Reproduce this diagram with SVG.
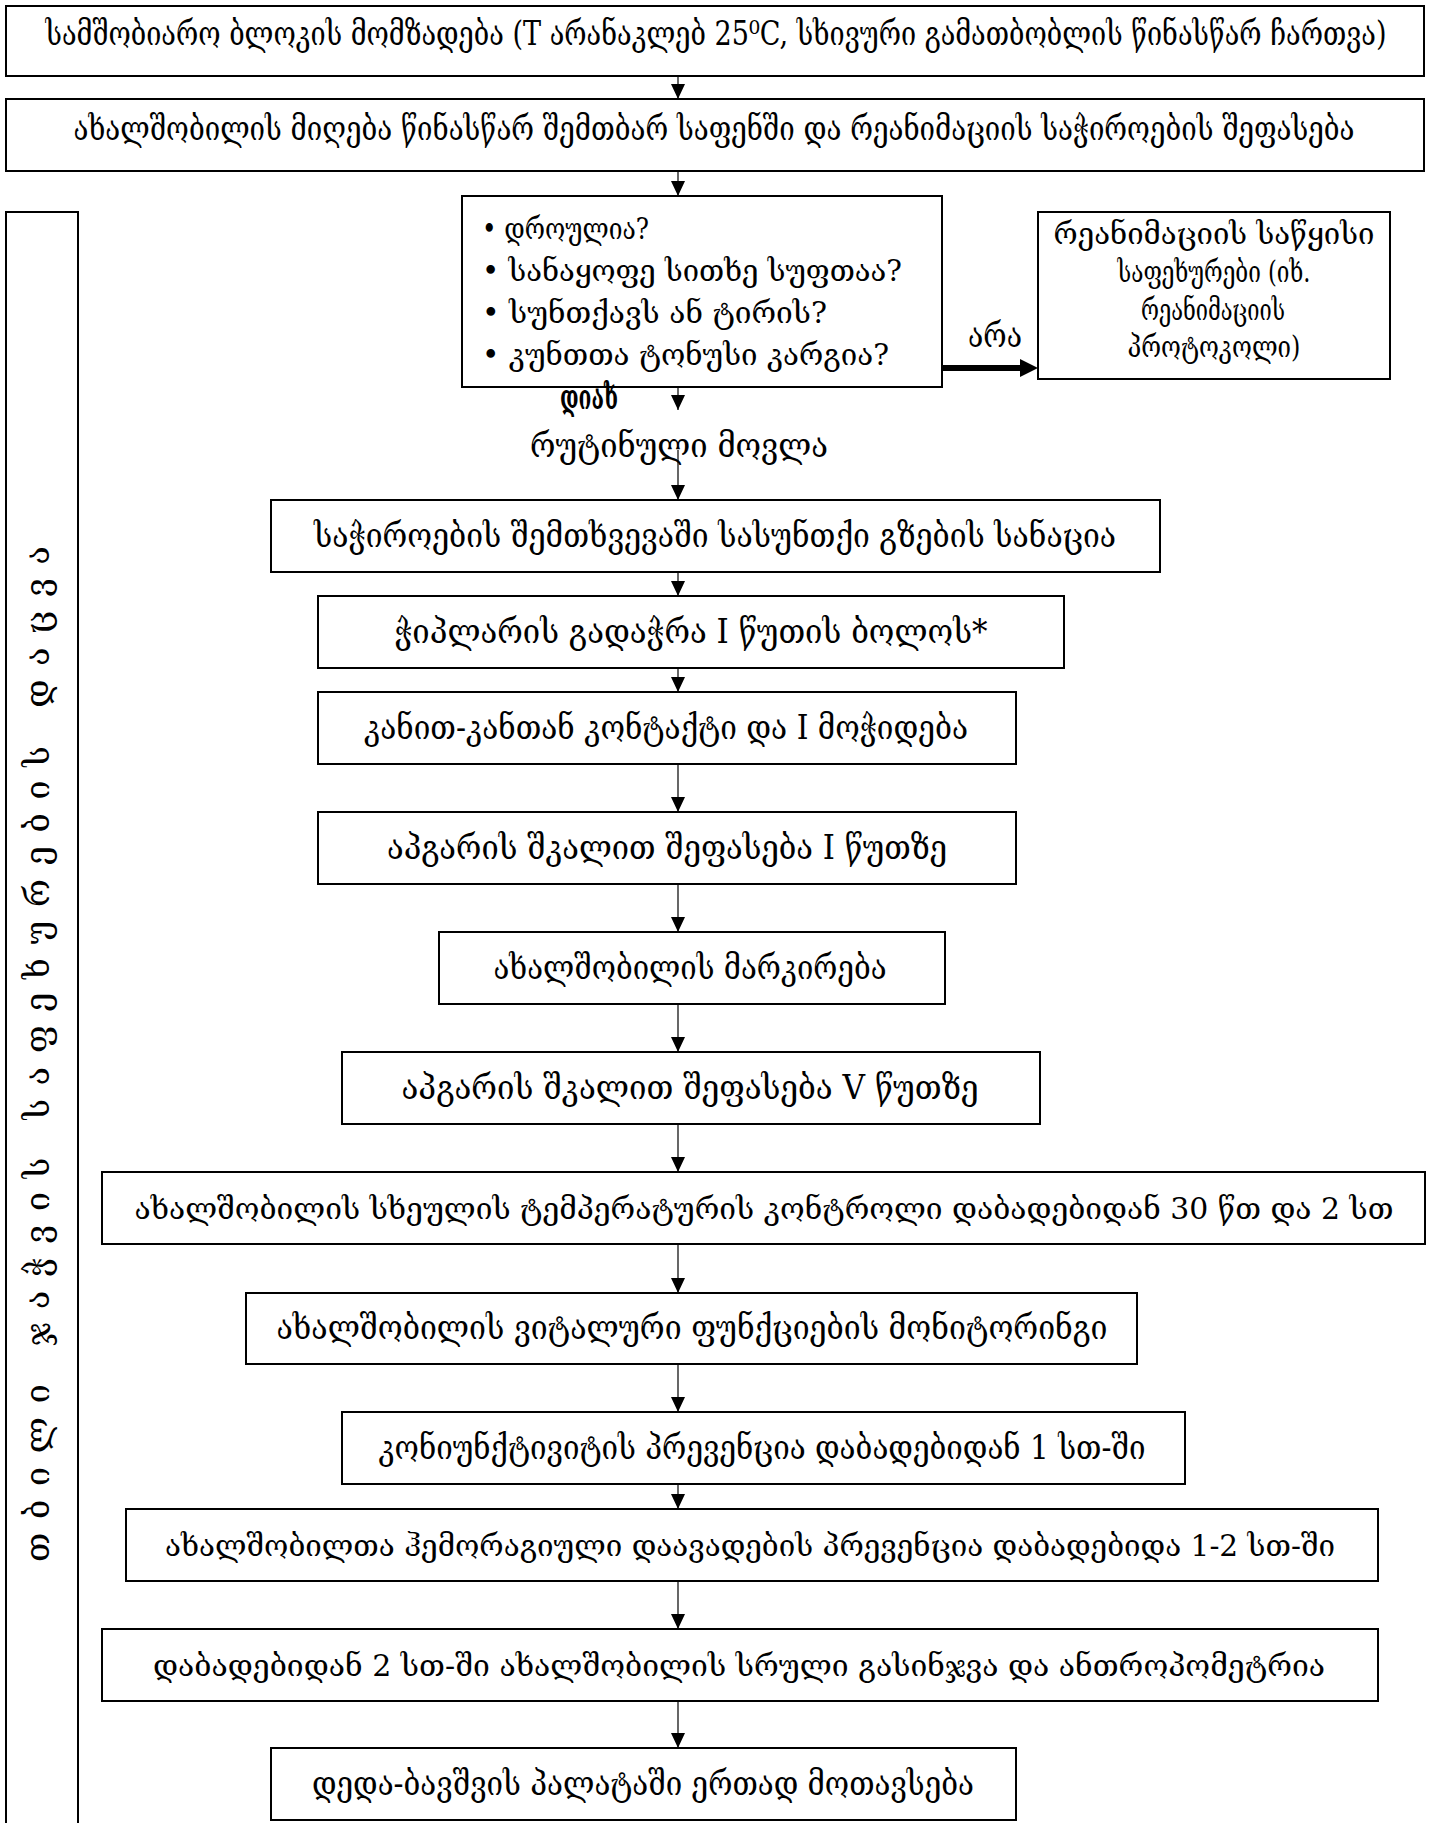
<svg xmlns="http://www.w3.org/2000/svg" width="1431" height="1823" viewBox="0 0 1431 1823">
<defs>
<style>
.box{fill:#fff;stroke:#000;stroke-width:2}
.t{font-family:"DejaVu Serif","DejaVu Sans",serif;font-size:34px;fill:#000}
.s{font-size:30px}
.w{font-size:30px}
.c{text-anchor:middle}
.conn{stroke:#000;stroke-width:1.2;fill:none}
.thick{stroke:#000;stroke-width:6;fill:none}
</style>
<marker id="ah" markerUnits="userSpaceOnUse" viewBox="0 0 15 14" markerWidth="15" markerHeight="14" refX="15" refY="7" orient="auto"><path d="M0,0 L15,7 L0,14 z" fill="#000"/></marker>
<marker id="ahb" markerUnits="userSpaceOnUse" viewBox="0 0 18 18" markerWidth="18" markerHeight="18" refX="0" refY="9" orient="auto"><path d="M0,0 L18,9 L0,18 z" fill="#000"/></marker>
</defs>
<rect width="1431" height="1823" fill="#fff"/>

<g id="n1"><rect class="box" x="6" y="6" width="1418" height="70"/>
<text class="t c" x="716" y="45" font-size="25" textLength="1341" lengthAdjust="spacingAndGlyphs">სამშობიარო ბლოკის მომზადება (T არანაკლებ 25⁰C, სხივური გამათბობლის წინასწარ ჩართვა)</text></g>

<g id="n2"><rect class="box" x="6" y="99" width="1418" height="72"/>
<text class="t c" x="714" y="140" font-size="25" textLength="1281" lengthAdjust="spacingAndGlyphs">ახალშობილის მიღება წინასწარ შემთბარ საფენში და რეანიმაციის საჭიროების შეფასება</text></g>

<g id="left"><rect class="box" x="6" y="212" width="72" height="1640"/>
<text class="t" transform="translate(49,1562) rotate(-90)" x="0" y="0" font-size="28" textLength="1016" lengthAdjust="spacing">თბილი ჯაჭვის საფეხურების დაცვა</text></g>

<g id="decision"><rect class="box" x="462" y="196" width="480" height="191"/>
<text class="t s" x="482" y="239" textLength="167" lengthAdjust="spacingAndGlyphs">• დროულია?</text>
<text class="t s" x="482" y="281" textLength="420" lengthAdjust="spacingAndGlyphs">• სანაყოფე სითხე სუფთაა?</text>
<text class="t s" x="482" y="323" textLength="345" lengthAdjust="spacingAndGlyphs">• სუნთქავს ან ტირის?</text>
<text class="t s" x="482" y="365" textLength="407" lengthAdjust="spacingAndGlyphs">• კუნთთა ტონუსი კარგია?</text></g>

<g id="resus"><rect class="box" x="1038" y="212" width="352" height="167"/>
<text class="t c s" x="1214" y="244" textLength="321" lengthAdjust="spacingAndGlyphs">რეანიმაციის საწყისი</text>
<text class="t c s" x="1214" y="282" textLength="193" lengthAdjust="spacingAndGlyphs">საფეხურები (იხ.</text>
<text class="t c s" x="1213" y="320" textLength="144" lengthAdjust="spacingAndGlyphs">რეანიმაციის</text>
<text class="t c s" x="1214" y="357" textLength="173" lengthAdjust="spacingAndGlyphs">პროტოკოლი)</text></g>

<g id="routine"><text class="t c" x="679" y="457" font-family="DejaVu Sans" font-size="34" textLength="298" lengthAdjust="spacingAndGlyphs">რუტინული მოვლა</text></g>

<g id="n3"><rect class="box" x="271" y="500" width="889" height="72"/>
<text class="t c" x="715" y="547" textLength="802" lengthAdjust="spacingAndGlyphs">საჭიროების შემთხვევაში სასუნთქი გზების სანაცია</text></g>

<g id="n4"><rect class="box" x="318" y="596" width="746" height="72"/>
<text class="t c" x="691" y="643" textLength="593" lengthAdjust="spacingAndGlyphs">ჭიპლარის გადაჭრა I წუთის ბოლოს*</text></g>

<g id="n5"><rect class="box" x="318" y="692" width="698" height="72"/>
<text class="t c" x="666" y="739" textLength="604" lengthAdjust="spacingAndGlyphs">კანით-კანთან კონტაქტი და I მოჭიდება</text></g>

<g id="n6"><rect class="box" x="318" y="812" width="698" height="72"/>
<text class="t c" x="667" y="859" textLength="560" lengthAdjust="spacingAndGlyphs">აპგარის შკალით შეფასება I წუთზე</text></g>

<g id="n7"><rect class="box" x="439" y="932" width="506" height="72"/>
<text class="t c" x="690" y="979" textLength="393" lengthAdjust="spacingAndGlyphs">ახალშობილის მარკირება</text></g>

<g id="n8"><rect class="box" x="342" y="1052" width="698" height="72"/>
<text class="t c" x="690" y="1099" textLength="577" lengthAdjust="spacingAndGlyphs">აპგარის შკალით შეფასება V წუთზე</text></g>

<g id="n9"><rect class="box" x="102" y="1172" width="1323" height="72"/>
<text class="t c w" x="764" y="1219" textLength="1259" lengthAdjust="spacingAndGlyphs">ახალშობილის სხეულის ტემპერატურის კონტროლი დაბადებიდან 30 წთ და 2 სთ</text></g>

<g id="n10"><rect class="box" x="246" y="1293" width="891" height="71"/>
<text class="t c" x="692" y="1339" textLength="831" lengthAdjust="spacingAndGlyphs">ახალშობილის ვიტალური ფუნქციების  მონიტორინგი</text></g>

<g id="n11"><rect class="box" x="342" y="1412" width="843" height="72"/>
<text class="t c" x="762" y="1459" textLength="767" lengthAdjust="spacingAndGlyphs">კონიუნქტივიტის პრევენცია დაბადებიდან 1 სთ-ში</text></g>

<g id="n12"><rect class="box" x="126" y="1509" width="1252" height="72"/>
<text class="t c w" x="750" y="1556" textLength="1170" lengthAdjust="spacingAndGlyphs">ახალშობილთა ჰემორაგიული დაავადების პრევენცია დაბადებიდა 1-2 სთ-ში</text></g>

<g id="n13"><rect class="box" x="102" y="1629" width="1276" height="72"/>
<text class="t c w" x="739" y="1676" textLength="1172" lengthAdjust="spacingAndGlyphs">დაბადებიდან 2 სთ-ში ახალშობილის სრული გასინჯვა და ანთროპომეტრია</text></g>

<g id="n14"><rect class="box" x="271" y="1748" width="745" height="72"/>
<text class="t c" x="643" y="1795" textLength="662" lengthAdjust="spacingAndGlyphs">დედა-ბავშვის პალატაში ერთად მოთავსება</text></g>

<g id="connectors">
<line class="conn" x1="678" y1="77" x2="678" y2="99" marker-end="url(#ah)"/>
<line class="conn" x1="678" y1="172" x2="678" y2="196" marker-end="url(#ah)"/>
<line class="conn" x1="678" y1="388" x2="678" y2="410" marker-end="url(#ah)"/>
<line class="conn" x1="678" y1="450" x2="678" y2="500" marker-end="url(#ah)"/>
<line class="conn" x1="678" y1="573" x2="678" y2="596" marker-end="url(#ah)"/>
<line class="conn" x1="678" y1="669" x2="678" y2="692" marker-end="url(#ah)"/>
<line class="conn" x1="678" y1="765" x2="678" y2="812" marker-end="url(#ah)"/>
<line class="conn" x1="678" y1="885" x2="678" y2="932" marker-end="url(#ah)"/>
<line class="conn" x1="678" y1="1005" x2="678" y2="1052" marker-end="url(#ah)"/>
<line class="conn" x1="678" y1="1125" x2="678" y2="1172" marker-end="url(#ah)"/>
<line class="conn" x1="678" y1="1245" x2="678" y2="1293" marker-end="url(#ah)"/>
<line class="conn" x1="678" y1="1365" x2="678" y2="1412" marker-end="url(#ah)"/>
<line class="conn" x1="678" y1="1485" x2="678" y2="1509" marker-end="url(#ah)"/>
<line class="conn" x1="678" y1="1582" x2="678" y2="1629" marker-end="url(#ah)"/>
<line class="conn" x1="678" y1="1702" x2="678" y2="1748" marker-end="url(#ah)"/>
<line class="thick" x1="943" y1="368" x2="1020" y2="368" marker-end="url(#ahb)"/>
<text class="t c" x="995" y="347" font-size="24" textLength="54" lengthAdjust="spacingAndGlyphs">არა</text>
<text class="t c" x="589" y="409" font-size="18" font-weight="bold" textLength="58" lengthAdjust="spacingAndGlyphs">დიახ</text>
</g>
</svg>
